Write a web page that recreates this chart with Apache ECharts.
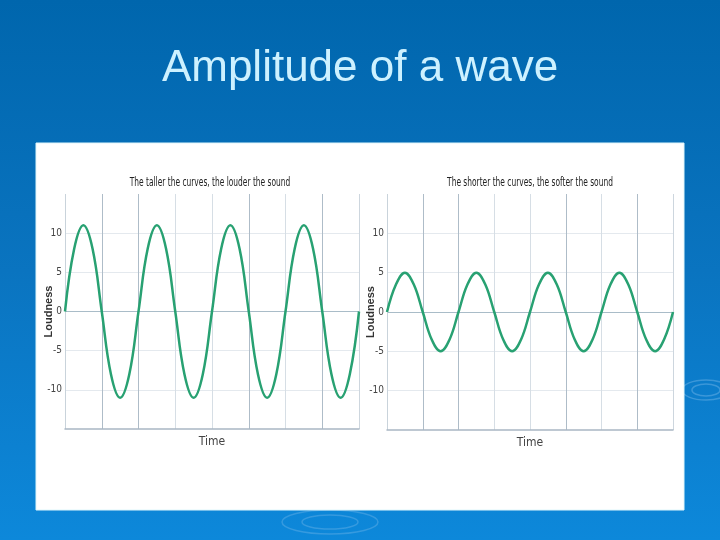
<!DOCTYPE html>
<html>
<head>
<meta charset="utf-8">
<script src="https://cdn.jsdelivr.net/npm/echarts@6/dist/echarts.min.js"></script>
<style>
html,body{margin:0;padding:0;background:#0a77c6;}
#chart{width:720px;height:540px;}
</style>
</head>
<body>
<div id="chart"></div>
<script>
// ---- data ----
const slideTitle = 'Amplitude of a wave';
const leftTitle = 'The taller the curves, the louder the sound';
const rightTitle = 'The shorter the curves, the softer the sound';
const yAxisName = 'Loudness';
const xAxisName = 'Time';
const yTickLabels = ['', '-10', '-5', '0', '5', '10', ''];
const timeSteps = [0,0.25,0.5,0.75,1,1.25,1.5,1.75,2,2.25,2.5,2.75,3,3.25,3.5,3.75,4,4.25,4.5,4.75,5,5.25,5.5,5.75,6,6.25,6.5,6.75,7,7.25,7.5,7.75,8];
const loudTall = [0,8,11,8,0,-8,-11,-8, 0,8,11,8,0,-8,-11,-8, 0,8,11,8,0,-8,-11,-8, 0,8,11,8,0,-8,-11,-8, 0];
const loudShort = [0,3.5,5,3.5,0,-3.5,-5,-3.5, 0,3.5,5,3.5,0,-3.5,-5,-3.5, 0,3.5,5,3.5,0,-3.5,-5,-3.5, 0,3.5,5,3.5,0,-3.5,-5,-3.5, 0];

const narrow = "'Liberation Sans Narrow','DejaVu Sans Condensed',sans-serif";
const lineColor = '#28a172';

function xAxisFor(gridIndex){
  return {
    type: 'value', gridIndex: gridIndex, min: 0, max: 8, interval: 1,
    axisLabel: {show: false}, axisTick: {show: false},
    axisLine: {show: true, onZero: false, lineStyle: {color: '#a9b7c3', width: 1.5}},
    splitLine: {show: true, lineStyle: {width: 1, color: ['#c9d3db','#aebcc8','#aebcc8','#d6dee5','#d6dee5','#aebcc8','#d6dee5','#aebcc8','#cdd6de']}},
    name: xAxisName, nameLocation: 'middle', nameGap: 7, nameMoveOverlap: false,
    nameTextStyle: {fontFamily: narrow, fontSize: 12, color: '#444', verticalAlign: 'top'}
  };
}
function yAxisFor(gridIndex, labelMargin, nameGap){
  return {
    type: 'value', gridIndex: gridIndex, min: -15, max: 15, interval: 5,
    axisLine: {show: false}, axisTick: {show: false},
    axisLabel: {margin: labelMargin, fontFamily: narrow, fontSize: 10, color: '#444',
      formatter: function(v){ return yTickLabels[(v + 15) / 5]; }},
    splitLine: {show: true, lineStyle: {width: 1, color: ['transparent','#e4e9ee','#e4e9ee','#a9bcc8','#e4e9ee','#e4e9ee','transparent']}},
    name: yAxisName, nameLocation: 'middle', nameGap: nameGap, nameRotate: 90, nameMoveOverlap: false,
    nameTextStyle: {fontFamily: "'Liberation Sans','Arial',sans-serif", fontSize: 11, fontWeight: 'bold', color: '#333'}
  };
}

const chart = echarts.init(document.getElementById('chart'), null, {renderer: 'canvas'});
chart.setOption({
  backgroundColor: 'transparent',
  animation: false,
  graphic: [
    {type: 'rect', z: -10, silent: true, shape: {x: 0, y: 0, width: 720, height: 540},
     style: {fill: new echarts.graphic.LinearGradient(0, 0, 0, 1, [
       {offset: 0, color: '#0066ad'}, {offset: 0.5, color: '#0a74c0'}, {offset: 1, color: '#0d88da'}])}},
    {type: 'ellipse', z: -9, silent: true, shape: {cx: 706, cy: 390, rx: 24, ry: 10}, style: {fill: 'none', stroke: 'rgba(150,200,240,0.35)', lineWidth: 1.5}},
    {type: 'ellipse', z: -9, silent: true, shape: {cx: 706, cy: 390, rx: 14, ry: 6}, style: {fill: 'none', stroke: 'rgba(150,200,240,0.35)', lineWidth: 1.5}},
    {type: 'ellipse', z: -9, silent: true, shape: {cx: 330, cy: 522, rx: 48, ry: 12}, style: {fill: 'none', stroke: 'rgba(150,200,240,0.3)', lineWidth: 1.5}},
    {type: 'ellipse', z: -9, silent: true, shape: {cx: 330, cy: 522, rx: 28, ry: 7}, style: {fill: 'none', stroke: 'rgba(150,200,240,0.3)', lineWidth: 1.5}},
    {type: 'rect', z: -8, silent: true, shape: {x: 36, y: 143, width: 648, height: 367},
     style: {fill: '#ffffff', stroke: '#dff6fb', lineWidth: 1}},
    {type: 'text', z: 10, silent: true, x: 210, y: 183, scaleX: 0.64,
     style: {text: leftTitle, font: "13px " + narrow, fill: '#222', textAlign: 'center', textVerticalAlign: 'middle'}},
    {type: 'text', z: 10, silent: true, x: 530, y: 183, scaleX: 0.64,
     style: {text: rightTitle, font: "13px " + narrow, fill: '#222', textAlign: 'center', textVerticalAlign: 'middle'}}
  ],
  title: [
    {text: slideTitle, left: 'center', top: 42,
     textStyle: {fontFamily: "'Liberation Sans','Arial',sans-serif", fontSize: 44, fontWeight: 'normal', color: '#cdf1ff'}}
  ],
  grid: [
    {left: 65, top: 194, width: 294, height: 235},
    {left: 387, top: 194, width: 286, height: 236}
  ],
  xAxis: [xAxisFor(0), xAxisFor(1)],
  yAxis: [yAxisFor(0, 3, 11), yAxisFor(1, 3, 11)],
  series: [
    {type: 'line', xAxisIndex: 0, yAxisIndex: 0, smooth: 0.4, showSymbol: false,
     lineStyle: {color: lineColor, width: 2.5},
     data: timeSteps.map(function(t, i){ return [t, loudTall[i]]; })},
    {type: 'line', xAxisIndex: 1, yAxisIndex: 1, smooth: 0.4, showSymbol: false,
     lineStyle: {color: lineColor, width: 2.5},
     data: timeSteps.map(function(t, i){ return [t, loudShort[i]]; })}
  ]
});
</script>
</body>
</html>
